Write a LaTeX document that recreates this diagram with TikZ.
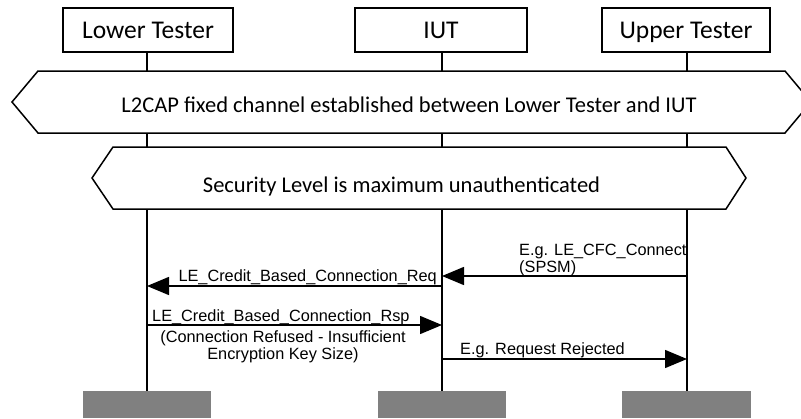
\documentclass[tikz,border=0pt]{standalone}
\usepackage{fontspec}
\setmainfont{Carlito}
\newfontfamily\arialf{Liberation Sans}
\usetikzlibrary{arrows.meta}
\definecolor{boxgray}{HTML}{808080}
\begin{document}
\begin{tikzpicture}[x=1pt,y=-1pt,
  actor/.style={draw,line width=1.5pt,minimum width=170pt,minimum height=44pt,inner sep=0pt,text height=17pt,text depth=0pt,font=\fontsize{25.5}{28}\selectfont},
  life/.style={line width=1.5pt},
  hexa/.style={draw,line width=1.5pt,fill=white,line join=miter},
  msg/.style={line width=1.5pt,-{Triangle[length=22pt,width=18pt]}},
  lbl/.style={inner sep=0pt,font=\arialf\fontsize{16.3}{18}\selectfont},
  htxt/.style={inner sep=0pt,anchor=base,font=\fontsize{22.5}{26}\selectfont},
  endbox/.style={fill=boxgray,draw=none}]
\useasboundingbox (0,0) rectangle (801,418);
\fill[white] (0,0) rectangle (801,418);
% actors
\node[actor] (lt) at (148,30) {Lower Tester};
\node[actor,minimum width=172pt] (iut) at (441,30) {IUT};
\node[actor,minimum width=168pt] (ut) at (686,30) {Upper Tester};
% lifeline ends
\coordinate (ltend) at (147,391);
\coordinate (iutend) at (442,391);
\coordinate (utend) at (687,391);
\draw[life] (lt.south -| ltend) -- (ltend);
\draw[life] (iut.south -| iutend) -- (iutend);
\draw[life] (ut.south -| utend) -- (utend);
% hexagons
\draw[hexa] (38,71) -- (785,71) -- (811,102) -- (785,133) -- (38,133) -- (12,102) -- cycle;
\node[htxt] (h1) at (409,112) {L2CAP fixed channel established between Lower Tester and IUT};
\draw[hexa] (113,147) -- (726,147) -- (746,178) -- (726,209) -- (113,209) -- (92,178) -- cycle;
\node[htxt] (h2) at (401.5,192) {Security Level is maximum unauthenticated};
% messages
\coordinate (m1s) at (687,276);
\coordinate (m1e) at (442,276);
\draw[msg] (m1s) -- (m1e);
\node[lbl,anchor=base west] (l1a) at (519,255) {E.g. LE\_CFC\_Connect};
\node[lbl,anchor=base west] (l1b) at (519,272) {(SPSM)};
\coordinate (m2s) at (442,286);
\coordinate (m2e) at (147,286);
\draw[msg] (m2s) -- (m2e);
\node[lbl,anchor=base east] (l2) at (437,281) {LE\_Credit\_Based\_Connection\_Req};
\coordinate (m3s) at (147,325);
\coordinate (m3e) at (442,325);
\draw[msg] (m3s) -- (m3e);
\node[lbl,anchor=base west] (l3) at (152,321) {LE\_Credit\_Based\_Connection\_Rsp};
\node[lbl,anchor=base] (l3b) at (283,342) {(Connection Refused - Insufficient};
\node[lbl,anchor=base] (l3c) at (283,359) {Encryption Key Size)};
\coordinate (m4s) at (442,359);
\coordinate (m4e) at (687,359);
\draw[msg] (m4s) -- (m4e);
\node[lbl,anchor=base west] (l4) at (460,354) {E.g. Request Rejected};
% end boxes
\fill[endbox] (83,391) rectangle (211,418);
\fill[endbox] (378,391) rectangle (506,418);
\fill[endbox] (622,391) rectangle (751,418);
\end{tikzpicture}
\end{document}
